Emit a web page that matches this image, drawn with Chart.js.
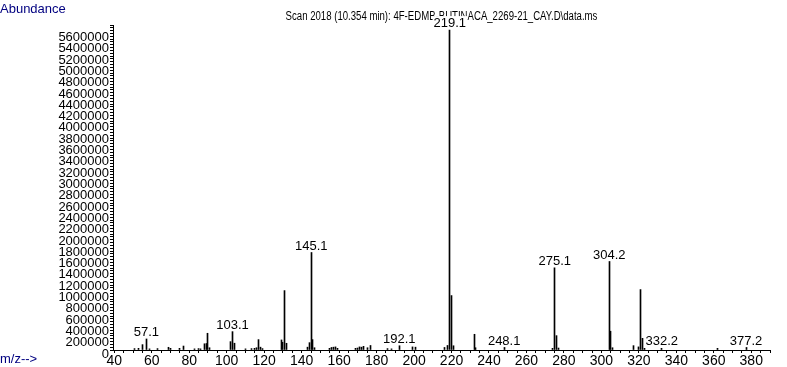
<!DOCTYPE html>
<html>
<head>
<meta charset="utf-8">
<script src="https://cdn.jsdelivr.net/npm/chart.js@4.4.1/dist/chart.umd.min.js"></script>
<style>
    html, body { margin: 0; padding: 0; background: #fff; }
    #wrap { position: relative; width: 787px; height: 367px; }
</style>
</head>
<body>
<div id="wrap"><canvas id="msChart"></canvas></div>
<script>
const titleText = 'Scan 2018 (10.354 min): 4F-EDMB-BUTINACA_2269-21_CAY.D\\data.ms';

// m/z of each line and its abundance
const mzValues = [51, 53, 55, 57.1, 59, 63, 69, 70, 75, 77, 83, 85, 86, 88, 89, 90, 91,
    102, 103.1, 104, 110, 113, 115, 116, 117, 118, 119, 129, 130, 131, 132,
    143, 144, 145.1, 146, 147, 155, 156, 157, 158, 159, 169, 170, 171, 172, 173, 175, 177,
    186, 188, 192.1, 199, 201, 216, 218, 219.1, 220, 221, 232, 233, 248.1,
    274, 275.1, 276, 277, 304.2, 305, 306, 317, 320, 321, 322, 323, 332.2, 362, 377.2];
const abundance = [25000, 30000, 95000, 195000, 20000, 25000, 48000, 30000, 30000, 70000, 20000, 25000, 20000, 110000, 115000, 296000, 40000,
    148000, 325000, 120000, 20000, 25000, 30000, 40000, 184000, 50000, 25000, 178000, 137000, 1051000, 119000,
    50000, 130000, 1725000, 184000, 40000, 30000, 45000, 50000, 55000, 30000, 30000, 35000, 55000, 50000, 65000, 40000, 80000,
    25000, 20000, 75000, 55000, 50000, 45000, 80000, 5660000, 963000, 75000, 278000, 40000, 45000,
    30000, 1454000, 254000, 35000, 1566000, 332000, 40000, 77000, 55000, 1069000, 207000, 30000, 30000, 30000, 45000];

// labelled peaks
const peakLabels = [57.1, 103.1, 145.1, 192.1, 219.1, 248.1, 275.1, 304.2, 332.2, 377.2];

const xMin = 39.3, xMax = 390;
const yMax = 5750000;

// keep the 1px lines sharp
const snapPlugin = {
    id: 'snapBars',
    beforeDatasetsDraw(chart) {
        chart.getDatasetMeta(0).data.forEach(el => {
            el.x = Math.floor(el.x) + 0.5;
        });
    }
};

const labelPlugin = {
    id: 'msText',
    afterDraw(chart) {
        const ctx = chart.ctx;
        const area = chart.chartArea;
        const xs = chart.scales.x, ys = chart.scales.y;
        ctx.save();
        ctx.fillStyle = '#000080';
        ctx.font = '13px "Liberation Sans", Arial, sans-serif';
        ctx.textBaseline = 'alphabetic';
        ctx.textAlign = 'left';
        ctx.fillText('Abundance', 0, 13);
        ctx.fillText('m/z-->', 0, 363);

        // title, squeezed a little like the original narrow font
        ctx.fillStyle = '#000';
        ctx.font = '12px "Liberation Sans", Arial, sans-serif';
        ctx.textAlign = 'center';
        ctx.save();
        ctx.translate((area.left + area.right) / 2, 20);
        ctx.scale(0.8, 1);
        ctx.fillText(titleText, 0, 0);
        ctx.restore();

        ctx.font = '13px "Liberation Sans", Arial, sans-serif';
        ctx.textBaseline = 'bottom';
        peakLabels.forEach(mz => {
            const i = mzValues.indexOf(mz);
            const px = xs.getPixelForValue(mz);
            const py = ys.getPixelForValue(abundance[i]) - 1;
            const w = ctx.measureText(String(mz)).width;
            ctx.fillStyle = '#fff';
            ctx.fillRect(px - w / 2 - 1, py - 13, w + 2, 12);
            ctx.fillStyle = '#000';
            ctx.fillText(String(mz), px, py + 1);
        });
        ctx.restore();
    }
};

new Chart(document.getElementById('msChart'), {
    type: 'bar',
    data: {
        datasets: [{
            data: mzValues.map((m, i) => ({ x: m, y: abundance[i] })),
            backgroundColor: '#000',
            borderWidth: 0,
            barThickness: 1
        }]
    },
    options: {
        responsive: true,
        maintainAspectRatio: false,
        animation: false,
        layout: { padding: { top: 25, right: 17, left: 0, bottom: 0 } },
        plugins: {
            legend: { display: false },
            tooltip: { enabled: false },
            title: { display: false }
        },
        scales: {
            x: {
                type: 'linear',
                min: xMin,
                max: xMax,
                offset: false,
                grid: { offset: false, drawOnChartArea: false, color: '#000', tickLength: 3 },
                border: { color: '#000', width: 1 },
                ticks: {
                    stepSize: 5,
                    includeBounds: false,
                    autoSkip: false,
                    maxRotation: 0,
                    padding: 0,
                    color: '#000',
                    font: { family: '"Liberation Sans", Arial, sans-serif', size: 14 },
                    callback: v => (v % 20 === 0 ? String(v) : '')
                },
                afterFit: s => { s.height = 17; }
            },
            y: {
                min: 0,
                max: yMax,
                grid: { drawOnChartArea: false, color: '#000', tickLength: 3 },
                border: { color: '#000', width: 1 },
                ticks: {
                    stepSize: 50000,
                    includeBounds: false,
                    autoSkip: false,
                    padding: 1,
                    labelOffset: 4,
                    color: '#000',
                    font: { family: '"Liberation Sans", Arial, sans-serif', size: 13 },
                    callback: v => (v % 200000 === 0 ? String(v) : '')
                },
                afterFit: s => { s.width = 113; }
            }
        }
    },
    plugins: [snapPlugin, labelPlugin]
});
</script>
</body>
</html>
